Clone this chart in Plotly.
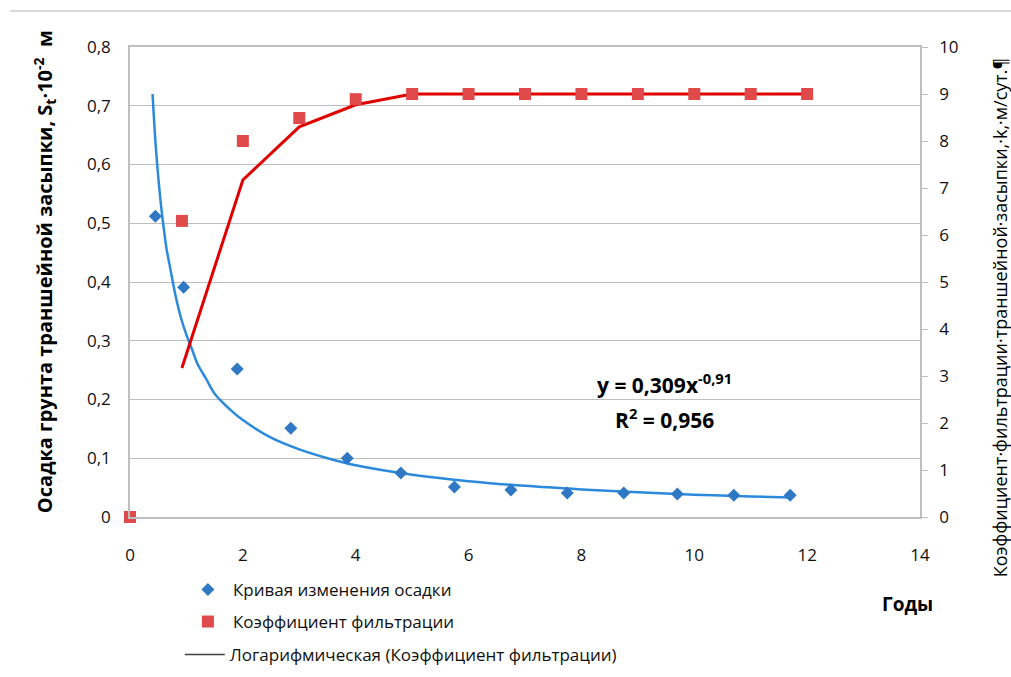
import plotly.graph_objects as go

# Settlement data (left axis)
settle_x = [0.45, 0.95, 1.9, 2.85, 3.85, 4.8, 5.75, 6.75, 7.75, 8.75, 9.7, 10.7, 11.7]
settle_y = [0.512, 0.391, 0.252, 0.151, 0.100, 0.075, 0.051, 0.046, 0.041, 0.041, 0.039, 0.037, 0.037]

# Power trend curve (left axis)
trend_x = [0.4, 0.45, 0.5, 0.55, 0.6, 0.65, 0.7, 0.8, 0.9, 1.0, 1.1, 1.2, 1.35, 1.5, 1.75, 2.0, 2.5, 3.0, 3.5, 4.0, 5.0, 6.0, 7.0, 8.0, 9.0, 10.0, 11.0, 11.7]
trend_y = [0.72, 0.64, 0.58, 0.53, 0.49, 0.455, 0.43, 0.38, 0.34, 0.31, 0.285, 0.26, 0.235, 0.21, 0.185, 0.165, 0.135, 0.115, 0.1, 0.088, 0.072, 0.061, 0.053, 0.047, 0.042, 0.038, 0.035, 0.033]

# Filtration coefficient (right axis)
filt_x = [0, 0.92, 2, 3, 4, 5, 6, 7, 8, 9, 10, 11, 12]
filt_y = [0, 6.3, 8.0, 8.49, 8.89, 9.0, 9.0, 9.0, 9.0, 9.0, 9.0, 9.0, 9.0]

# Red curve (right axis)
line_x = [0.92, 2, 3, 4, 5, 6, 7, 8, 9, 10, 11, 12]
line_y = [3.17, 7.17, 8.3, 8.77, 9.0, 9.0, 9.0, 9.0, 9.0, 9.0, 9.0, 9.0]

x_ticks = [0, 2, 4, 6, 8, 10, 12, 14]
left_ticks = [0, 0.1, 0.2, 0.3, 0.4, 0.5, 0.6, 0.7, 0.8]
left_labels = ["0", "0,1", "0,2", "0,3", "0,4", "0,5", "0,6", "0,7", "0,8"]
right_ticks = list(range(0, 11))

FONT = "Open Sans"

fig = go.Figure()

fig.add_trace(go.Scatter(
    x=trend_x, y=trend_y, mode="lines", line=dict(color="#2B8ADB", width=2.5, shape="spline"),
    showlegend=False, hoverinfo="skip"))

fig.add_trace(go.Scatter(
    x=line_x, y=line_y, mode="lines", line=dict(color="#E00000", width=3),
    yaxis="y2", showlegend=False))

fig.add_trace(go.Scatter(
    x=settle_x, y=settle_y, mode="markers", name="Кривая изменения осадки",
    marker=dict(symbol="diamond", size=10, color="#2F78C4"), legend="legend"))

fig.add_trace(go.Scatter(
    x=filt_x, y=filt_y, mode="markers", name="Коэффициент фильтрации",
    marker=dict(symbol="square", size=12, color="#E04A4A"), yaxis="y2",
    cliponaxis=False, legend="legend2"))

fig.add_trace(go.Scatter(
    x=[None], y=[None], mode="lines", name="Логарифмическая (Коэффициент фильтрации)",
    line=dict(color="#404040", width=1.5), legend="legend3"))

leg_common = dict(xanchor="left", yanchor="middle", font=dict(size=17),
                  itemwidth=40, bgcolor="rgba(0,0,0,0)")

fig.update_layout(
    width=1011, height=677,
    margin=dict(l=130, r=91, t=47, b=160, autoexpand=False),
    paper_bgcolor="white", plot_bgcolor="white",
    font=dict(family=FONT, size=16, color="#111111"),
    xaxis=dict(range=[0, 14], tickvals=x_ticks, showgrid=False, zeroline=False,
               showline=True, linecolor="#BFBFBF", linewidth=1.5, mirror=True,
               ticks="", ticklabelstandoff=22, tickfont=dict(size=17)),
    yaxis=dict(range=[0, 0.8], tickvals=left_ticks, ticktext=left_labels,
               showgrid=True, gridcolor="#BFBFBF", gridwidth=1.2, zeroline=False,
               showline=True, linecolor="#BFBFBF", linewidth=1.5,
               ticks="", ticklabelstandoff=14, tickfont=dict(size=17)),
    yaxis2=dict(range=[0, 10], tickvals=right_ticks, overlaying="y", side="right",
                showgrid=False, zeroline=False, showline=True, linecolor="#BFBFBF",
                linewidth=1.5, ticks="outside", ticklen=6, tickcolor="#BFBFBF",
                ticklabelstandoff=8, tickfont=dict(size=17)),
    legend=dict(x=0.067, y=(517 - 590) / 470, **leg_common),
    legend2=dict(x=0.067, y=(517 - 622) / 470, **leg_common),
    legend3=dict(x=0.063, y=(517 - 655) / 470, **leg_common),
    showlegend=True,
)

fig.add_annotation(xref="paper", yref="paper", x=0, y=0.521, xshift=-85,
                   xanchor="center", yanchor="middle",
                   text="<b>Осадка грунта траншейной засыпки, S<sub>t</sub>·10<sup>-2</sup>  м</b>",
                   textangle=-90, showarrow=False, font=dict(size=20, color="#000000"))
fig.add_annotation(xref="paper", yref="paper", x=1, y=0.423, xshift=80,
                   xanchor="center", yanchor="middle",
                   text="Коэффициент·фильтрации·траншейной·засыпки,·k,·м/сут.¶",
                   textangle=-90, showarrow=False, font=dict(size=18, color="#000000"))
fig.add_annotation(xref="paper", yref="paper", x=0.984, y=-0.185,
                   xanchor="center", yanchor="middle",
                   text="<b>Годы</b>", showarrow=False, font=dict(size=19, color="#000000"))
fig.add_annotation(x=9.48, y=0.228, text="<b>y = 0,309x<sup>-0,91</sup></b>",
                   showarrow=False, font=dict(size=21, color="#000000"))
fig.add_annotation(x=9.48, y=0.167, text="<b>R<sup>2</sup> = 0,956</b>",
                   showarrow=False, font=dict(size=21, color="#000000"))

fig.add_shape(type="line", xref="paper", yref="paper", x0=-0.152, x1=1.115,
              y0=1.0766, y1=1.0766, line=dict(color="#D9D9D9", width=2))

fig.write_html("out.html", config={"displayModeBar": False})

with open("out.html", "r", encoding="utf-8") as f:
    html = f.read()
html = html.replace("<head>", "<head><style>html,body{margin:0;padding:0;overflow:hidden}</style>", 1)
with open("out.html", "w", encoding="utf-8") as f:
    f.write(html)
